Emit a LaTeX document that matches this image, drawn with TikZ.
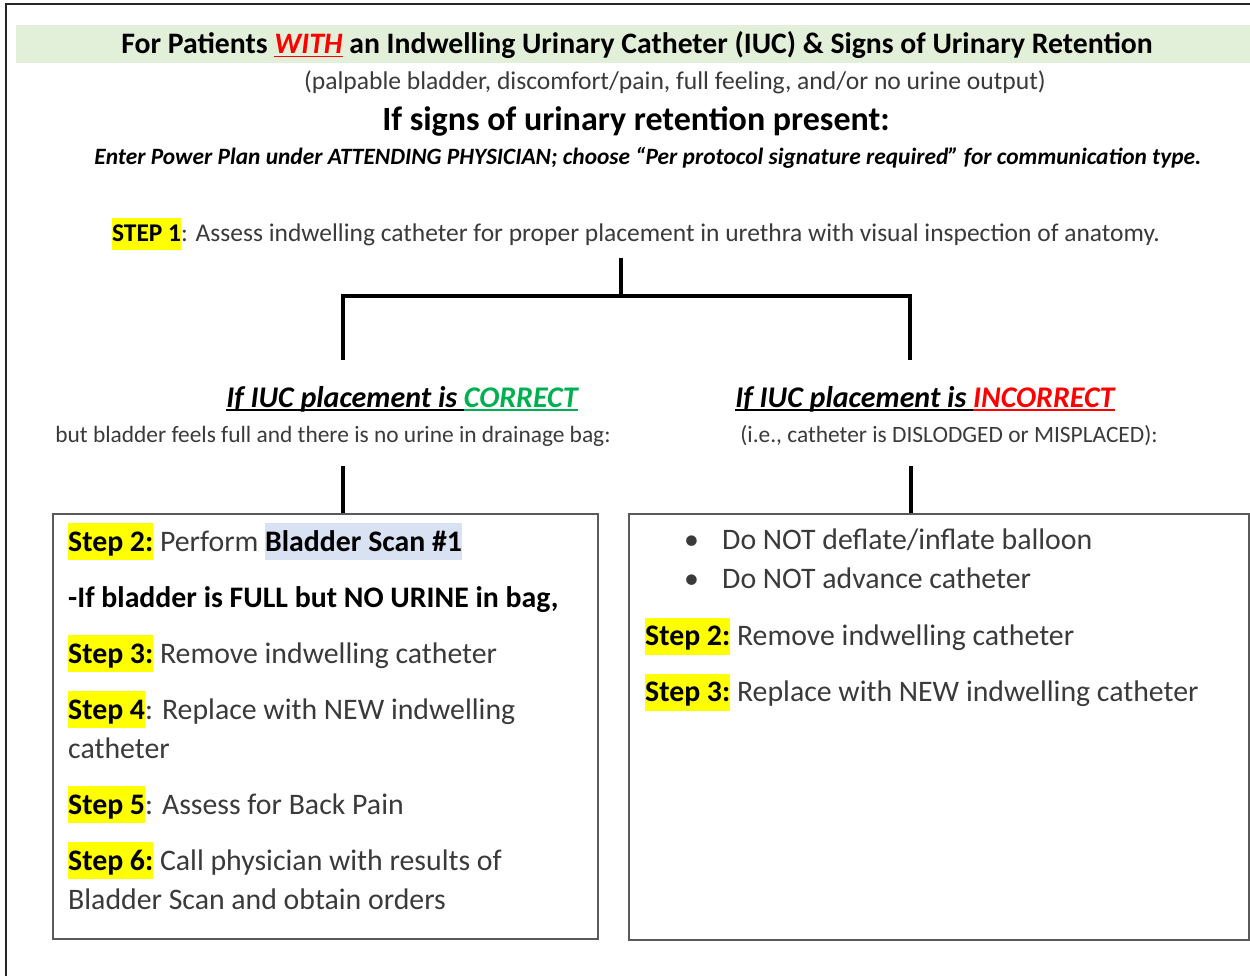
\documentclass[tikz,border=0pt]{standalone}
\usepackage{fontspec}
\setmainfont{Carlito}
\usepackage{xcolor}
\definecolor{bandgreen}{HTML}{E2EFD9}
\definecolor{hlyellow}{HTML}{FFFF00}
\definecolor{hlblue}{HTML}{D9E2F3}
\definecolor{okgreen}{HTML}{00B050}
\definecolor{txtgray}{HTML}{3A3A3A}
\definecolor{boxgray}{HTML}{5A5A5A}
\newsavebox{\ulbox}
\newcommand{\ulc}[2]{\sbox{\ulbox}{#2}\rlap{\color{#1}\rule[-3.5pt]{\wd\ulbox}{1.6pt}}\usebox{\ulbox}}
\newcommand{\hly}[1]{{\setlength{\fboxsep}{0pt}\colorbox{hlyellow}{\vrule height .95em depth .3em width 0pt#1}}}
\newcommand{\hlb}[1]{{\setlength{\fboxsep}{0pt}\colorbox{hlblue}{\vrule height .95em depth .3em width 0pt#1}}}
\newcommand{\stp}[1]{\hly{\textbf{\color{black}#1}}}

\begin{document}
\begin{tikzpicture}[x=1pt,y=-1pt,
    txt/.style={inner sep=0pt,anchor=base,text=txtgray},
    tree/.style={line width=4pt,black},
    stepbox/.style={draw=boxgray,line width=1.6pt,anchor=north west,inner sep=0pt},
    boxtxt/.style={inner sep=0pt,anchor=north west,align=left,text=txtgray,
      font=\fontsize{29.8}{39}\selectfont}]
  \useasboundingbox (0,0) rectangle (1250,976);
  \draw[line width=2.5pt,black!85] (6,976) -- (6,4) -- (1250,4);
  \fill[bandgreen] (16,25) rectangle (1250,63);
  % heading lines
  \node[txt,text=black,font=\fontsize{29.7}{34}\selectfont\bfseries] (title) at (637,54)
    {For Patients \ulc{red}{\color{red}\itshape WITH} an Indwelling Urinary Catheter (IUC) \& Signs of Urinary Retention};
  \node[txt,font=\fontsize{25.6}{30}\selectfont] (signs) at (675,90)
    {(palpable bladder, discomfort/pain, full feeling, and/or no urine output)};
  \node[txt,text=black,font=\fontsize{34}{40}\selectfont\bfseries] (present) at (636,131)
    {If signs of urinary retention present:};
  \node[txt,text=black,font=\fontsize{23.4}{28}\selectfont\bfseries\itshape] (enter) at (648,165)
    {Enter Power Plan under ATTENDING PHYSICIAN; choose “Per protocol signature required” for communication type.};
  \node[txt,inner ysep=8pt,font=\fontsize{25.5}{30}\selectfont] (step1) at (636,242)
    {\stp{STEP 1}: Assess indwelling catheter for proper placement in urethra with visual inspection of anatomy.};
  % the two branches
  \node[txt,text=black,font=\fontsize{30}{35}\selectfont\bfseries\itshape] (corr) at (402,407)
    {\ulc{black}{If IUC placement is\ }\ulc{okgreen}{\color{okgreen}CORRECT}};
  \node[txt,font=\fontsize{23.4}{28}\selectfont] (corrsub) at (333,442)
    {but bladder feels full and there is no urine in drainage bag:};
  \node[txt,text=black,font=\fontsize{30}{35}\selectfont\bfseries\itshape] (incorr) at (925,407)
    {\ulc{black}{If IUC placement is\ }\ulc{red}{\color{red}INCORRECT}};
  \node[txt,font=\fontsize{23.4}{28}\selectfont] (incorrsub) at (949,442)
    {(i.e., catheter is DISLODGED or MISPLACED):};
  \node[stepbox,minimum width=545pt,minimum height=425pt] (lbox) at (52,513) {};
  \node[stepbox,minimum width=620pt,minimum height=426pt] (rbox) at (628,513) {};
  \node[boxtxt] (ltext) at (68,523) {%
    \stp{Step 2:} Perform \hlb{\textbf{\color{black}Bladder Scan \#1}}\\[17pt]
    {\color{black}\bfseries -If bladder is FULL but NO URINE in bag,}\\[17pt]
    \stp{Step 3:} Remove indwelling catheter\\[17pt]
    \stp{Step 4}: Replace with NEW indwelling\\
    catheter\\[17pt]
    \stp{Step 5}: Assess for Back Pain\\[17pt]
    \stp{Step 6:} Call physician with results of\\
    Bladder Scan and obtain orders};
  \node[boxtxt] (rtext) at (645,529) {%
    \hspace*{39pt}\makebox[38pt][l]{•}Do NOT deflate/inflate balloon\\
    \hspace*{39pt}\makebox[38pt][l]{•}Do NOT advance catheter\\[18pt]
    \stp{Step 2:} Remove indwelling catheter\\[17pt]
    \stp{Step 3:} Replace with NEW indwelling catheter};
  % connectors
  \coordinate (fork) at (621,296);
  \coordinate (ltop) at (343,360);
  \coordinate (rtop) at (910,360);
  \coordinate (lstem) at (343,466);
  \coordinate (rstem) at (911,466);
  \draw[tree] (step1.south -| fork) -- (fork);
  \draw[tree] (ltop) |- (fork) -| (rtop);
  \draw[tree] (lstem) -- (lstem |- lbox.north);
  \draw[tree] (rstem) -- (rstem |- rbox.north);
\end{tikzpicture}
\end{document}
